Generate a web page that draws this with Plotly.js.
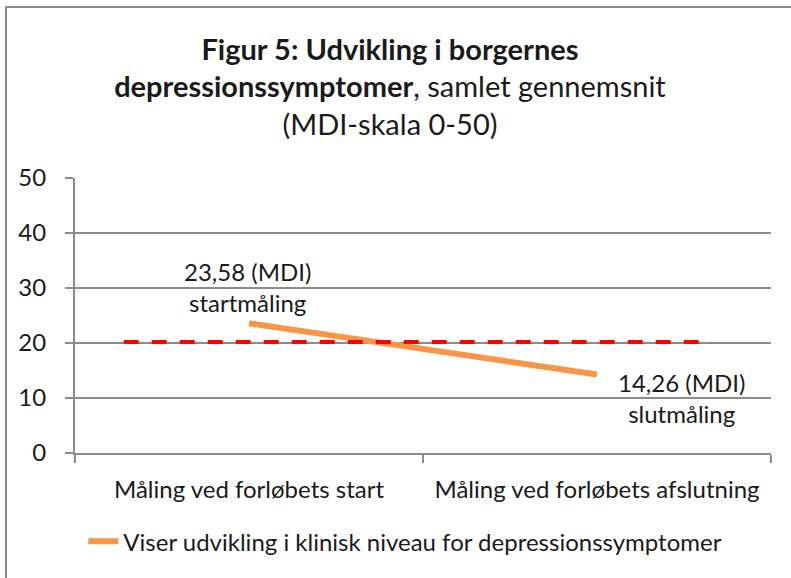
<!DOCTYPE html>
<html>
<head>
<meta charset="utf-8">
<script src="https://cdn.plot.ly/plotly-3.0.1.min.js"></script>
<style>
  html, body { margin: 0; padding: 0; background: #fff; }
  #wrap { position: relative; width: 791px; height: 578px; }
  #chart { width: 791px; height: 578px; }
  #frame { position: absolute; left: 5px; top: 6px; right: 0; bottom: 0;
           border-left: 2px solid #8c8c8c; border-top: 2px solid #8c8c8c; pointer-events: none; }
</style>
</head>
<body>
<div id="wrap">
  <div id="chart"></div>
  <div id="frame"></div>
</div>
<script>
const categories = ["Måling ved forløbets start", "Måling ved forløbets afslutning"];
const values = [23.58, 14.26];
const seriesName = "Viser udvikling i klinisk niveau for depressionssymptomer";
const pointLabels = ["23,58 (MDI)<br>startmåling", "14,26 (MDI)<br>slutmåling"];
const thresholdValue = [20.2];
const yTicks = [0, 10, 20, 30, 40, 50];

const FONT = "Lato, 'Open Sans', sans-serif";
const TXT = "#1a1a1a";
const FS = 24;

const trace = {
  type: "scatter",
  mode: "lines",
  x: categories,
  y: values,
  name: seriesName,
  line: { color: "#f79646", width: 6 },
  hoverinfo: "skip"
};

const layout = {
  width: 791, height: 578,
  margin: { l: 75, r: 20, t: 178, b: 125 },
  paper_bgcolor: "#fff", plot_bgcolor: "#fff",
  font: { family: FONT, color: TXT, size: FS },
  title: {
    text: "<b>Figur 5: Udvikling i borgernes</b><br><b>depressionssymptomer</b>, samlet gennemsnit<br>(MDI-skala 0-50)",
    font: { family: FONT, size: 29, color: TXT },
    x: 0.493, xanchor: "center", xref: "container",
    y: 0.897, yanchor: "top", yref: "container"
  },
  xaxis: {
    type: "category",
    categoryorder: "array", categoryarray: categories,
    range: [-0.5, 1.5],
    showgrid: false,
    showline: true, linecolor: "#8c8c8c", linewidth: 2,
    ticks: "outside", tickson: "boundaries", ticklen: 8, tickwidth: 2, tickcolor: "#8c8c8c",
    ticklabelstandoff: 14,
    tickfont: { family: FONT, size: FS, color: TXT },
    zeroline: false,
    fixedrange: true
  },
  yaxis: {
    range: [0, 50],
    tickvals: yTicks,
    showgrid: true, gridcolor: "#8c8c8c", gridwidth: 2,
    showline: true, linecolor: "#8c8c8c", linewidth: 2,
    ticks: "outside", ticklen: 8, tickwidth: 2, tickcolor: "#8c8c8c",
    ticklabelstandoff: 14,
    tickfont: { family: FONT, size: FS, color: TXT },
    zeroline: false,
    fixedrange: true
  },
  shapes: [{
    type: "line", xref: "x", yref: "y",
    x0: -0.36, x1: 1.33, y0: thresholdValue[0], y1: thresholdValue[0],
    line: { color: "#ff0000", width: 4, dash: "15px,13px" },
    layer: "above"
  }],
  annotations: [
    { x: categories[0], y: values[0], xref: "x", yref: "y", text: pointLabels[0],
      showarrow: false, yanchor: "bottom", yshift: 4, xshift: -2,
      font: { family: FONT, size: FS, color: TXT } },
    { x: categories[1], y: values[1], xref: "x", yref: "y", text: pointLabels[1],
      showarrow: false, xanchor: "center", yanchor: "top", yshift: 9, xshift: 84,
      font: { family: FONT, size: FS, color: TXT } }
  ],
  showlegend: true,
  legend: {
    orientation: "h", x: 0.012, xanchor: "left", y: -0.322, yanchor: "middle",
    font: { family: FONT, size: FS, color: TXT }, bgcolor: "rgba(0,0,0,0)"
  }
};

Plotly.newPlot("chart", [trace], layout, { displayModeBar: false, staticPlot: true });
</script>
</body>
</html>
